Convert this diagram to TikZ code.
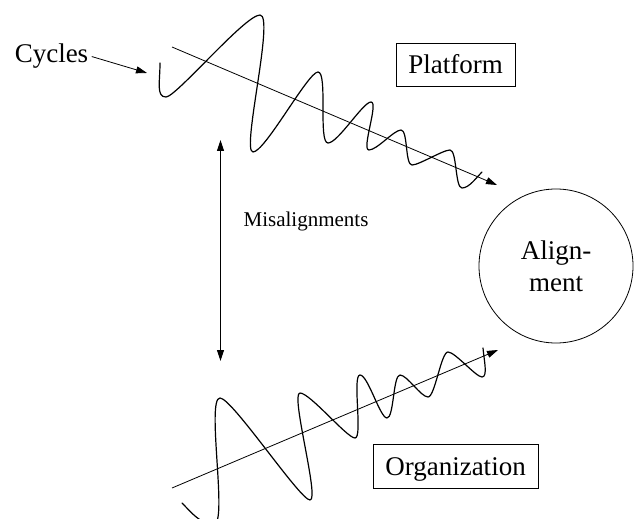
\documentclass[tikz,border=0pt]{standalone}
\usepackage{fontspec}
\setmainfont{Liberation Serif}
\usetikzlibrary{arrows.meta}
\begin{document}
\begin{tikzpicture}[x=1bp,y=-1bp,
  wave/.style={line width=1.2bp, line join=round, line cap=round},
  axisarrow/.style={line width=0.8bp, -{Triangle[length=11bp,width=7bp]}},
  dblarrow/.style={line width=0.8bp, {Triangle[length=11bp,width=7bp]}-{Triangle[length=11bp,width=7bp]}},
  bigtext/.style={font=\fontsize{27bp}{32bp}\selectfont},
  labelbox/.style={draw, line width=0.8bp, bigtext},
]
\clip (0,0) rectangle (635,519);
\fill[white] (0,0) rectangle (635,519);

% labels
\node[bigtext, anchor=base] (cycles) at (51.5,63) {Cycles};
\node[labelbox, minimum width=119bp, minimum height=43bp] (platform) at (455.5,64.5) {Platform};
\node[labelbox, minimum width=165bp, minimum height=44bp, text height=19bp, text depth=1bp] (org) at (455.5,466) {Organization};
\node[draw, circle, minimum size=154bp, line width=0.8bp, inner sep=0pt, align=center, bigtext] (alignment) at (556,266) {Align-\\ment};
\node[font=\fontsize{21bp}{25bp}\selectfont, anchor=base] (mis) at (306,227) {Misalignments};

% coordinates
\coordinate (cyctip) at (147,73);
\coordinate (topA) at (172,47);
\coordinate (topB) at (497,185);
\coordinate (botA) at (172,488);
\coordinate (botB) at (498,350);
\coordinate (misTop) at (220.5,140);
\coordinate (misBot) at (220.5,361);

% arrows
\draw[axisarrow] (cycles.east) -- (cyctip);
\draw[axisarrow] (topA) -- (topB);
\draw[axisarrow] (botA) -- (botB);
\draw[dblarrow] (misTop) -- (misBot);

% top wave
\draw[wave] (160,63) .. controls (160,82) and (156,97) .. (166,97)
  .. controls (176,97) and (245,15) .. (260,15)
  .. controls (275,15) and (241,152) .. (253,152)
  .. controls (265,152) and (308,72) .. (318,72)
  .. controls (328,72) and (318,143) .. (328,143)
  .. controls (338,143) and (363,102) .. (371,102)
  .. controls (379,102) and (361,150) .. (369,150)
  .. controls (377,150) and (394,130) .. (401,130)
  .. controls (408,130) and (405,165) .. (412,165)
  .. controls (419,165) and (443,150) .. (450,150)
  .. controls (457,150) and (455,188) .. (462,188)
  .. controls (469,188) and (476,178) .. (482,172);

% bottom wave
\draw[wave] (182,503) .. controls (192,513) and (200,524) .. (214,524)
  .. controls (228,524) and (206,398) .. (220,398)
  .. controls (232,398) and (300,500) .. (310,500)
  .. controls (320,500) and (290,393) .. (300,393)
  .. controls (310,393) and (347,438) .. (355,438)
  .. controls (363,438) and (352,375) .. (360,375)
  .. controls (368,375) and (380,418) .. (387,418)
  .. controls (394,418) and (393,375) .. (400,375)
  .. controls (407,375) and (421,397) .. (428,397)
  .. controls (435,397) and (441,352) .. (448,352)
  .. controls (455,352) and (476,377) .. (482,377)
  .. controls (488,377) and (484,360) .. (483,348);
\end{tikzpicture}
\end{document}
